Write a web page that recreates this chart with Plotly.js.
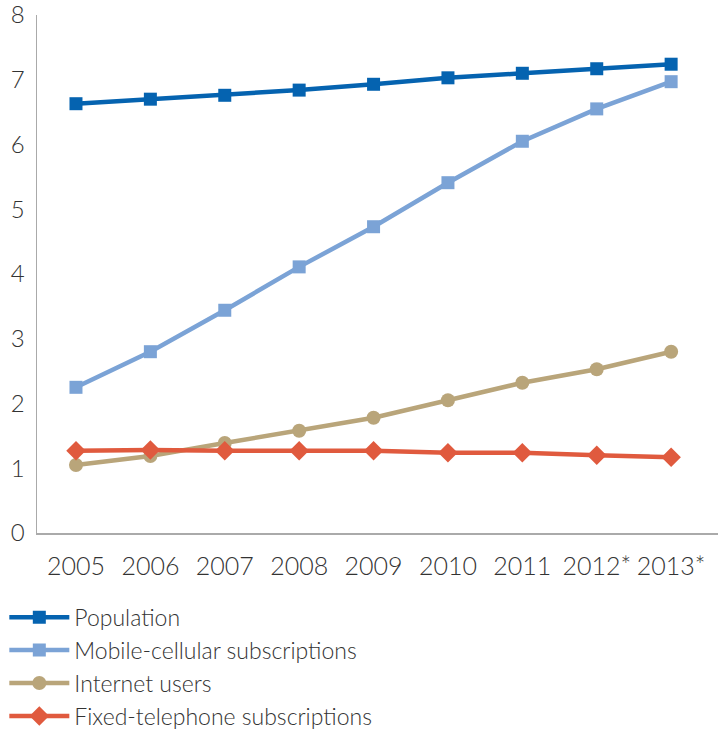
<!DOCTYPE html>
<html><head><meta charset="utf-8">
<script src="https://cdn.plot.ly/plotly-3.0.1.min.js"></script>
<style>html,body{margin:0;padding:0;background:#fff}#chart{width:720px;height:731px}</style>
</head><body><div id="chart"></div>
<script>
const years = ["2005","2006","2007","2008","2009","2010","2011","2012*","2013*"];
const population = [6.63,6.70,6.76,6.84,6.93,7.03,7.10,7.17,7.24];
const mobile = [2.25,2.80,3.44,4.11,4.73,5.41,6.05,6.55,6.97];
const internet = [1.05,1.19,1.39,1.58,1.78,2.05,2.32,2.53,2.80];
const fixedTel = [1.27,1.28,1.27,1.27,1.27,1.24,1.24,1.20,1.17];

function tr(name, y, color, symbol, size){
  return {x: years, y: y, name: name, type: 'scatter', mode: 'lines+markers',
    line: {color: color, width: 4.5}, marker: {color: color, symbol: symbol, size: size}};
}
const data = [
  tr('Population', population, '#0563B0', 'square', 13),
  tr('Mobile-cellular subscriptions', mobile, '#7BA3D6', 'square', 13),
  tr('Internet users', internet, '#B9A57A', 'circle', 14),
  tr('Fixed-telephone subscriptions', fixedTel, '#E05A3E', 'diamond', 15)
];
const layout = {
  width: 720, height: 731,
  margin: {l: 37, r: 2, t: 15, b: 198, autoexpand: false},
  paper_bgcolor: '#fff', plot_bgcolor: '#fff',
  font: {family: 'Lato, "DejaVu Sans", sans-serif', color: '#333', weight: 300},
  xaxis: {type: 'category', range: [-0.524, 8.63], showgrid: false, zeroline: false, tickangle: 0,
    showline: true, linecolor: '#aaa', linewidth: 1.5, ticks: '', ticklabelstandoff: 10,
    ticklabeloverflow: 'allow', tickfont: {size: 25, color: '#333', weight: 300}},
  yaxis: {range: [0, 8], dtick: 1, showgrid: false, zeroline: false,
    showline: true, linecolor: '#aaa', linewidth: 1.5, ticks: '', ticklabelstandoff: 6,
    ticklabeloverflow: 'allow', tickfont: {size: 24, color: '#333', weight: 300}},
  showlegend: true,
  legend: {xref: 'container', yref: 'container', x: 0.006, y: 0.185, yanchor: 'top', xanchor: 'left',
    orientation: 'v', font: {size: 23, color: '#333', weight: 300}, tracegroupgap: 0, itemwidth: 60, bgcolor: 'rgba(0,0,0,0)'}
};
Plotly.newPlot('chart', data, layout, {displayModeBar: false, staticPlot: true});
</script></body></html>
